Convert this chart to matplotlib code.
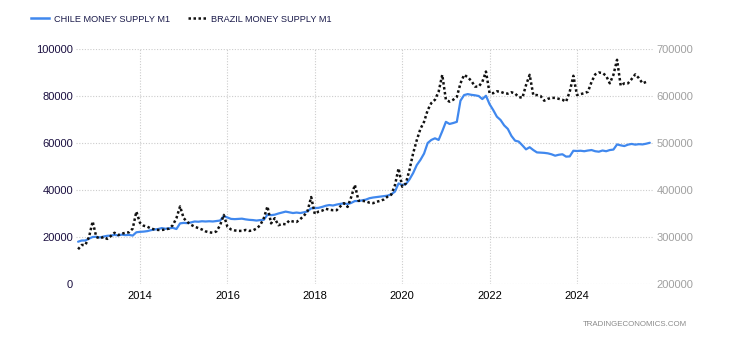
import numpy as np
import matplotlib
matplotlib.use("Agg")
import matplotlib.pyplot as plt
from matplotlib.lines import Line2D

plt.rcParams["font.family"] = ["Liberation Sans", "DejaVu Sans"]

# Monthly series, Aug 2012 onwards
chile_start = (2012, 8)
chile_m1 = [
    18.0, 18.5, 18.5, 19.3, 20.0,                                            # 2012
    20.1, 19.8, 20.2, 20.5, 20.6, 20.9, 20.7, 21.0, 20.8, 20.9, 20.6, 22.0,  # 2013
    22.2, 22.3, 22.5, 22.9, 23.2, 23.4, 23.8, 23.5, 23.7, 23.9, 23.4, 25.8,  # 2014
    26.0, 25.9, 26.2, 26.6, 26.5, 26.7, 26.6, 26.7, 26.6, 26.8, 27.0, 28.9,  # 2015
    28.3, 27.7, 27.6, 27.7, 27.8, 27.5, 27.3, 27.2, 27.0, 27.2, 27.3, 29.5,  # 2016
    29.3, 29.5, 30.0, 30.4, 30.8, 30.5, 30.2, 30.4, 30.2, 30.5, 30.9, 32.2,  # 2017
    32.3, 32.4, 32.8, 33.3, 33.6, 33.4, 33.8, 34.1, 34.3, 34.0, 34.5, 35.3,  # 2018
    35.3, 35.6, 35.9, 36.5, 36.8, 37.0, 37.2, 37.4, 37.6, 38.2, 39.3, 42.8,  # 2019
    42.1, 42.5, 44.5, 47.2, 50.6, 52.8, 55.5, 60.0, 61.3, 62.0, 61.3, 65.0,  # 2020
    69.0, 68.1, 68.5, 69.0, 78.0, 80.4, 80.8, 80.5, 80.3, 80.0, 78.7, 80.1,  # 2021
    76.5, 74.0, 71.2, 69.8, 67.5, 66.0, 63.0, 61.0, 60.6, 59.0, 57.3, 58.2,  # 2022
    57.0, 56.0, 55.9, 55.8, 55.6, 55.2, 54.6, 55.0, 55.2, 54.2, 54.3, 56.7,  # 2023
    56.6, 56.7, 56.5, 56.8, 57.0, 56.5, 56.3, 56.8, 56.5, 57.0, 57.2, 59.4,  # 2024
    59.0, 58.7, 59.3, 59.6, 59.3, 59.5, 59.4, 59.7, 60.1,                    # 2025
]
chile_m1 = [v * 1000 for v in chile_m1]

brazil_start = (2012, 8)
brazil_m1 = [
    274, 283, 283, 300, 333,                                        # 2012
    300, 297, 300, 296, 302, 309, 304, 307, 309, 310, 318, 354,     # 2013
    330, 324, 322, 318, 316, 315, 315, 316, 318, 325, 340, 365,     # 2014
    340, 332, 326, 322, 319, 316, 312, 310, 309, 312, 325, 347,     # 2015
    322, 316, 314, 313, 313, 315, 313, 314, 318, 325, 340, 365,     # 2016
    329, 340, 325, 328, 327, 335, 333, 332, 338, 345, 355, 385,     # 2017
    349, 354, 356, 360, 358, 357, 357, 365, 372, 364, 385, 411,     # 2018
    377, 377, 376, 373, 372, 375, 377, 380, 386, 390, 410, 446,     # 2019
    407, 414, 443, 478, 506, 530, 545, 570, 585, 592, 609, 645,     # 2020
    592, 588, 592, 598, 627, 645, 640, 632, 620, 620, 630, 652,     # 2021
    606, 606, 610, 609, 606, 605, 608, 605, 598, 596, 623, 645,     # 2022
    602, 602, 600, 590, 594, 596, 596, 594, 592, 588, 609, 643,     # 2023
    602, 604, 606, 609, 630, 646, 650, 649, 643, 627, 645, 677,     # 2024
    622, 627, 627, 636, 646, 638, 627, 630,                         # 2025
]
brazil_m1 = [v * 1000 for v in brazil_m1]

left_ticks = [0, 20000, 40000, 60000, 80000, 100000]
right_ticks = [200000, 300000, 400000, 500000, 600000, 700000]
year_ticks = [2014, 2016, 2018, 2020, 2022, 2024]


def month_axis(start, n):
    y, m = start
    return np.array([y + (m - 1 + i) / 12.0 for i in range(n)])


t_chile = month_axis(chile_start, len(chile_m1))
t_brazil = month_axis(brazil_start, len(brazil_m1))

BLUE = "#4088ee"
GRID = "#cccccc"

fig = plt.figure(figsize=(7.3, 3.4), dpi=100)
ax = fig.add_axes([76 / 730, 1 - 284 / 340, (654 - 76) / 730, (284 - 49) / 340])
ax2 = ax.twinx()

ax.plot(t_chile, chile_m1, color=BLUE, lw=1.6, solid_capstyle="round", zorder=3)
ax2.plot(t_brazil, brazil_m1, color="#111111", lw=1.8, linestyle=(0, (1, 1.0)), zorder=3)

x0 = 2014 - (140 - 76) / 43.7
x1 = 2014 + (654 - 140) / 43.7
ax.set_xlim(x0, x1)
ax.set_ylim(0, 100000)
ax2.set_ylim(200000, 700000)

ax.set_yticks(left_ticks)
ax.set_yticklabels([str(v) for v in left_ticks])
ax2.set_yticks(right_ticks)
ax2.set_yticklabels([str(v) for v in right_ticks])
ax.set_xticks(year_ticks)
ax.set_xticklabels([str(v) for v in year_ticks])

ax.grid(True, color=GRID, linestyle=(0, (1, 1.5)), lw=0.8)
ax.set_axisbelow(True)

for a in (ax, ax2):
    for s in a.spines.values():
        s.set_visible(False)

ax.tick_params(axis="y", length=0, pad=2, labelsize=8, labelcolor="#1a0f40")
ax.tick_params(axis="x", length=0, pad=5, labelsize=8, labelcolor="#000000")
ax2.tick_params(axis="y", length=0, pad=2, labelsize=8, labelcolor="#a0a0a0")

handles = [
    Line2D([], [], color=BLUE, lw=1.8),
    Line2D([], [], color="#111111", lw=1.8, linestyle=(0, (1, 1.0))),
]
fig.legend(handles, ["CHILE MONEY SUPPLY M1", "BRAZIL MONEY SUPPLY M1"],
           loc="center left", bbox_to_anchor=(31 / 730, 1 - 19 / 340),
           ncol=2, frameon=False, fontsize=6.6, handlelength=1.95,
           handletextpad=0.55, columnspacing=2.0, labelcolor="#1a1a4a",
           borderaxespad=0, borderpad=0)

fig.text(687 / 730, 1 - 324 / 340, "TRADINGECONOMICS.COM", ha="right", va="center",
         fontsize=5.7, color="#8a8a8a")

fig.savefig("out.png", dpi=100)
